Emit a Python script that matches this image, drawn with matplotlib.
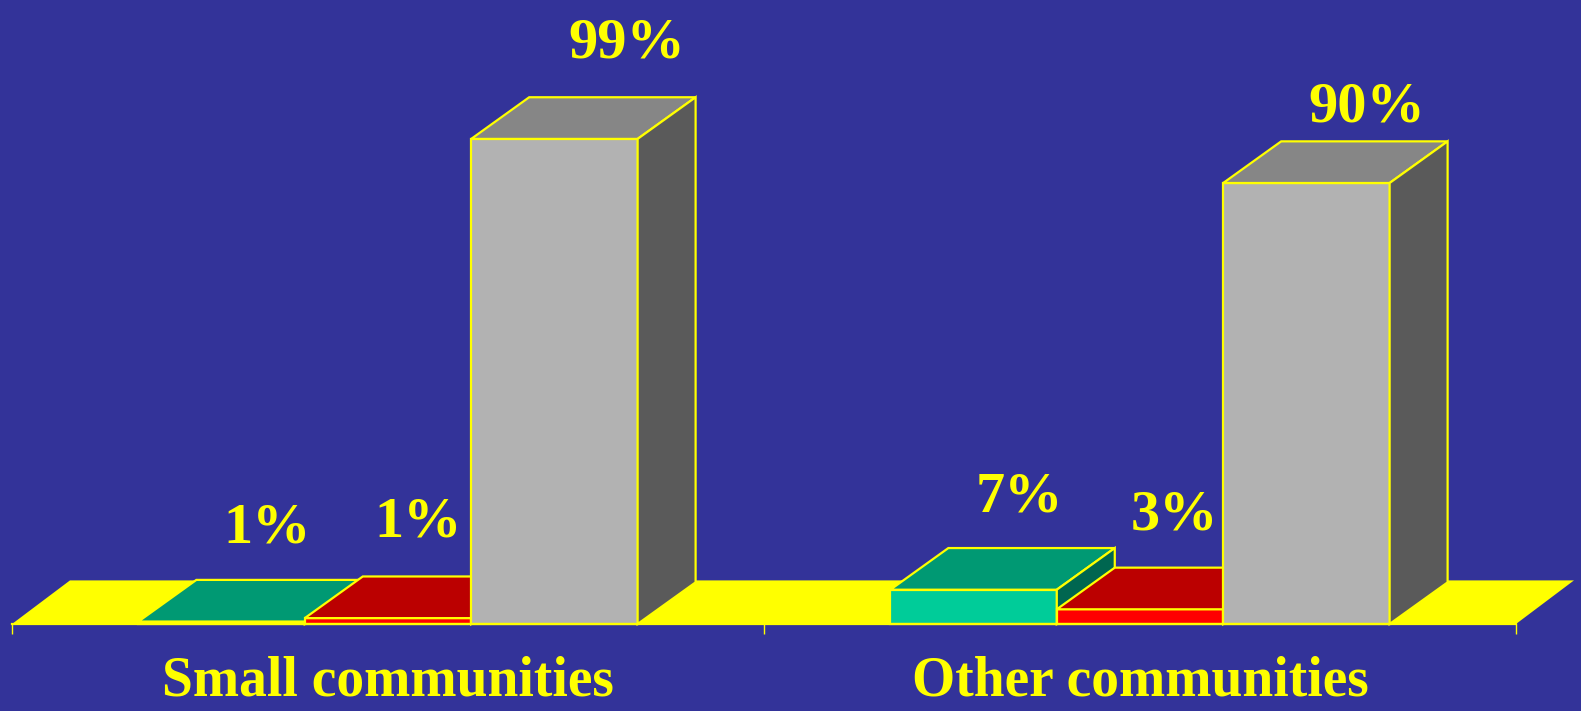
import matplotlib
matplotlib.use("Agg")
import matplotlib.pyplot as plt

# data
categories = ["Small communities", "Other communities"]
green_values = [0.5, 7]
red_values = [1.2, 3]
gray_values = [99, 90]
green_labels = ["1%", "7%"]
red_labels = ["1%", "3%"]
gray_labels = ["99%", "90%"]

## STYLE ##
bg = "#333399"
yellow = "#FFFF00"
green_cols = ("#00CC99", "#009973", "#006650")
red_cols = ("#FF0000", "#BB0000", "#7F0000")
gray_cols = ("#B2B2B2", "#868686", "#5A5A5A")
bar_w = 0.2213
dep_x = 0.0771
dep_y = 8.5
floor_dep = 8.9
edge = 1.6
px = 72 / 100  # points per pixel
font = "Liberation Serif"

fig = plt.figure(figsize=(15.81, 7.11), dpi=100, facecolor=bg)
ax = fig.add_axes([12 / 1581, (711 - 624) / 711, 1504 / 1581, 624 / 711])
ax.patch.set_visible(False)
ax.set_xlim(-0.5, 1.5)
ax.set_ylim(0, 624 / 4.9)


# front face as a normal bar, then top and side polygons with the same depth
def bar3d(x, h, cols, z):
    left = x - bar_w / 2
    right = x + bar_w / 2
    ax.bar(x, h, bar_w, color=cols[0], edgecolor=yellow, linewidth=edge, zorder=z, clip_on=False)
    ax.fill([left, right, right + dep_x, left + dep_x], [h, h, h + dep_y, h + dep_y],
            facecolor=cols[1], edgecolor=yellow, linewidth=edge, zorder=z, clip_on=False)
    ax.fill([right, right + dep_x, right + dep_x, right], [0, dep_y, h + dep_y, h],
            facecolor=cols[2], edgecolor=yellow, linewidth=edge, zorder=z, clip_on=False)


# floor
ax.fill([-0.5, 1.5, 1.5 + dep_x, -0.5 + dep_x], [0, 0, floor_dep, floor_dep],
        color=yellow, linewidth=0, zorder=1, clip_on=False)

# label offsets from the bar centre / top, in pixels
green_off = [(46, 79), (46, 78)]
red_off = [(30, 82), (34, 80)]
gray_off = [(72, 81), (60, 61)]

for i in range(len(categories)):
    series = [(i - bar_w, green_values[i], green_cols, green_labels[i], green_off[i]),
              (i, red_values[i], red_cols, red_labels[i], red_off[i]),
              (i + bar_w, gray_values[i], gray_cols, gray_labels[i], gray_off[i])]
    for j, (x, h, cols, lab, off) in enumerate(series):
        bar3d(x, h, cols, 2 + i * 3 + j)
        ax.annotate(lab, (x, h), xytext=(off[0] * px, off[1] * px), textcoords="offset points",
                    ha="center", va="baseline", color=yellow, fontsize=42,
                    fontfamily=font, fontweight="bold", zorder=20)

# axis: ticks on the group borders, names between them
for s in ["top", "left", "right"]:
    ax.spines[s].set_visible(False)
ax.spines["bottom"].set_color(yellow)
ax.spines["bottom"].set_linewidth(edge)
ax.spines["bottom"].set_zorder(15)
ax.set_yticks([])
ax.set_xticks([-0.5, 0.5, 1.5])
ax.set_xticklabels([])
ax.tick_params(axis="x", which="major", color=yellow, length=7.5, width=1.0)
ax.set_xticks([0, 1], minor=True)
ax.set_xticklabels(categories, minor=True, color=yellow, fontsize=40,
                   fontfamily=font, fontweight="bold")
ax.tick_params(axis="x", which="minor", length=0, pad=23)

fig.savefig("out.png", dpi=100, facecolor=bg)
